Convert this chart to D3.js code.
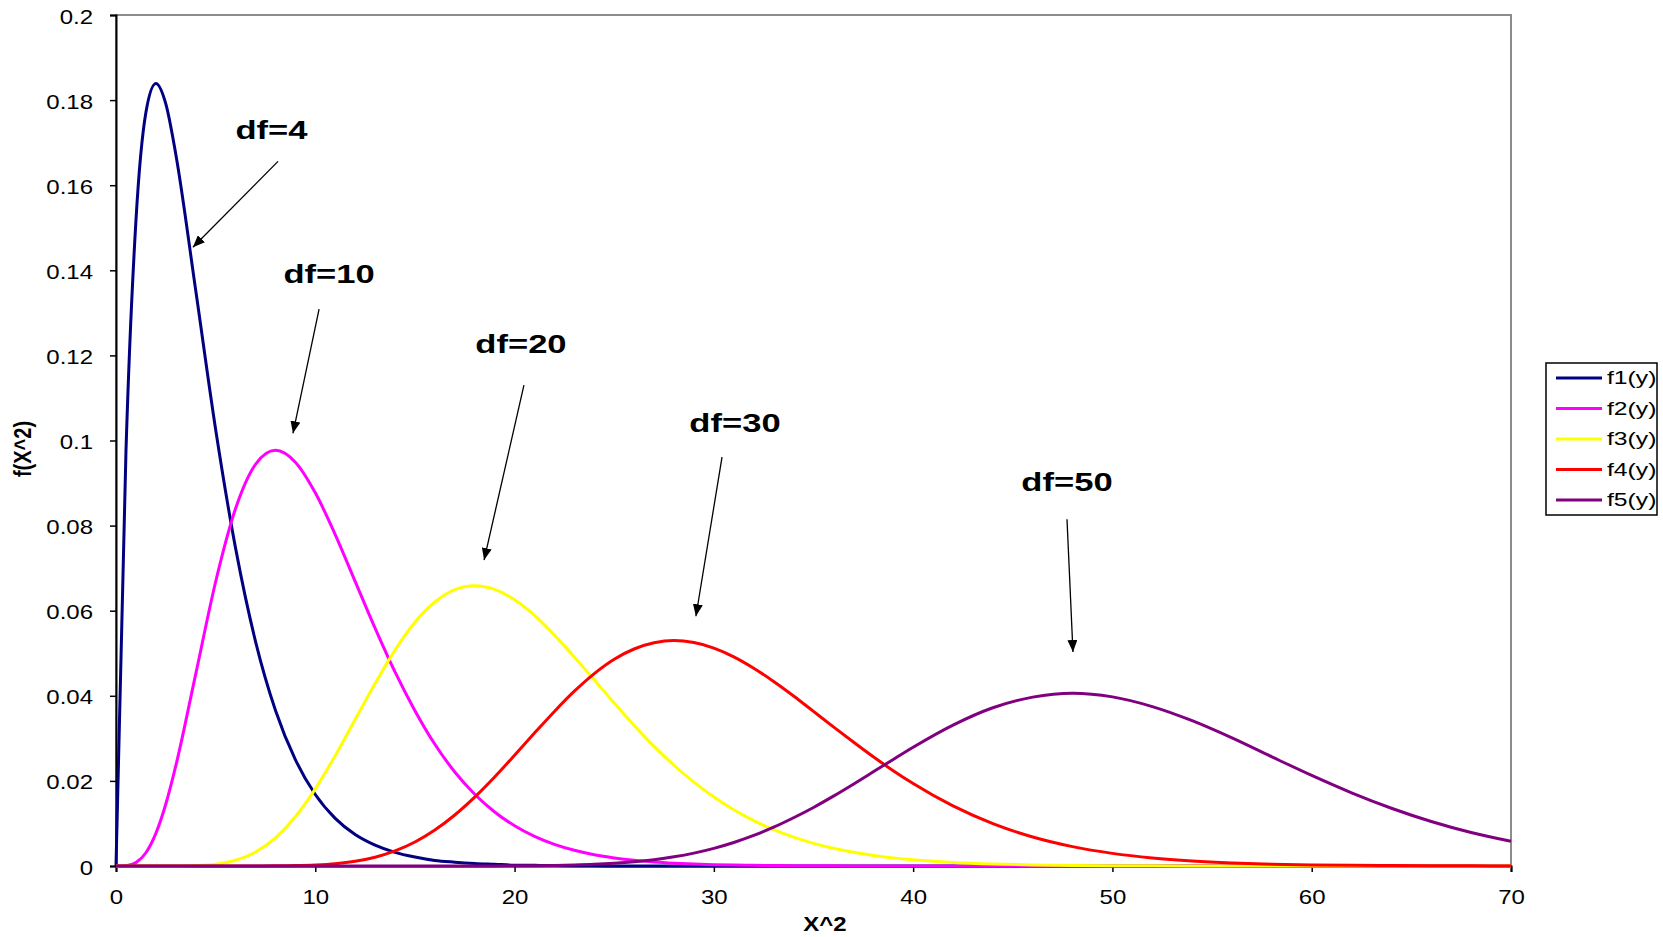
<!DOCTYPE html>
<html>
<head>
<meta charset="utf-8">
<script src="https://cdn.jsdelivr.net/npm/d3@7"></script>
<style>
body { margin: 0; background: #fff; }
text { font-family: "Liberation Sans", Arial, sans-serif; fill: #000; }
</style>
</head>
<body>
<svg id="plot"></svg>
<script>
// x values of the sampled points (x^2)
var XS = [0, 0.5, 1, 1.5, 2, 2.5, 3,
  4, 5, 6, 7, 8, 9, 10, 11, 12, 13, 14, 15, 16, 17, 18, 19, 20,
  21, 22, 23, 24, 25, 26, 27, 28, 29, 30, 31, 32, 33, 34, 35, 36, 37, 38, 39, 40,
  42, 44, 46, 48, 50, 52, 54, 56, 58, 60, 62, 64, 66, 68, 70];

var F1 = [0, 0.0974, 0.1516, 0.1771, 0.1839, 0.1791, 0.1673,
  0.1353, 0.1026, 0.0747, 0.0528, 0.0366, 0.0250, 0.0168, 0.0112, 0.0074, 0.0049, 0.0032, 0.0021, 0.0013, 0.0009, 0.0006, 0.0004, 0.0002,
  0.00015, 0.0001, 0.00006, 0.00004, 0.00002, 0.00001, 0.00001, 0, 0, 0, 0, 0, 0, 0, 0, 0, 0, 0, 0, 0,
  0, 0, 0, 0, 0, 0, 0, 0, 0, 0, 0, 0, 0, 0, 0];

var F2 = [0, 0.00006, 0.00079, 0.00311, 0.00766, 0.01457, 0.02353,
  0.0451, 0.0668, 0.0840, 0.0944, 0.0977, 0.0949, 0.0877, 0.0779, 0.0669, 0.0559, 0.0456, 0.0365, 0.0286, 0.0221, 0.01687, 0.0127, 0.00946,
  0.00697, 0.00509, 0.00369, 0.00265, 0.0019, 0.00134, 0.00095, 0.00067, 0.00046, 0.00032, 0.00022, 0.00015, 0.00011, 0.00007, 0.00005, 0.00003, 0.00002, 0.00002, 0.00001, 0.00001,
  0, 0, 0, 0, 0, 0, 0, 0, 0, 0, 0, 0, 0, 0, 0];

var F3 = [0, 0, 0, 0, 0, 0, 0.00001,
  0.0001, 0.00043, 0.00135, 0.00328, 0.00662, 0.01158, 0.01813, 0.02594, 0.03442, 0.04287, 0.05072, 0.05727, 0.06204, 0.06495, 0.06587, 0.06502, 0.06257,
  0.05889, 0.05426, 0.04909, 0.04372, 0.03829, 0.03304, 0.02812, 0.02368, 0.0197, 0.01621, 0.0132, 0.01065, 0.00853, 0.00677, 0.00533, 0.00416, 0.00323, 0.00249, 0.00191, 0.00145,
  0.00083, 0.00046, 0.00025, 0.00014, 0.00007, 0.00004, 0.00002, 0.00001, 0, 0, 0, 0, 0, 0, 0];

var F4 = [0, 0, 0, 0, 0, 0, 0,
  0, 0, 0, 0.00001, 0.00003, 0.00009, 0.00024, 0.00054, 0.00111, 0.00207, 0.00355, 0.00565, 0.00846, 0.01199, 0.01618, 0.02092, 0.02602,
  0.03124, 0.03633, 0.04108, 0.04523, 0.04861, 0.051, 0.05245, 0.05298, 0.05251, 0.05122, 0.04916, 0.04648, 0.04337, 0.03996, 0.03633, 0.03271, 0.02913, 0.02566, 0.0224, 0.01937,
  0.01411, 0.00995, 0.00681, 0.00455, 0.00297, 0.00189, 0.00118, 0.00072, 0.00043, 0.00026, 0.00015, 0.00009, 0.00005, 0.00003, 0.00002];

var F5 = [0, 0, 0, 0, 0, 0, 0,
  0, 0, 0, 0, 0, 0, 0, 0, 0, 0, 0, 0, 0, 0, 0.00001, 0.00002, 0.00004,
  0.00007, 0.00013, 0.00023, 0.00039, 0.00064, 0.00099, 0.00148, 0.00215, 0.00303, 0.00415, 0.00553, 0.00718, 0.00912, 0.01134, 0.01376, 0.01642, 0.01923, 0.02213, 0.02504, 0.0279,
  0.03311, 0.03719, 0.03969, 0.04061, 0.03975, 0.03747, 0.03415, 0.0301, 0.02565, 0.02128, 0.0172, 0.01358, 0.01046, 0.00787, 0.0058];

var SERIES = ["f1(y)", "f2(y)", "f3(y)", "f4(y)", "f5(y)"];
var COLORS = ["#000080", "#ff00ff", "#ffff00", "#ff0000", "#800080"];

var XTICKS = [0, 10, 20, 30, 40, 50, 60, 70];
var YTICKS = [0, 0.02, 0.04, 0.06, 0.08, 0.1, 0.12, 0.14, 0.16, 0.18, 0.2];

// annotations: label, label position, arrow start, arrow end (data units)
var NOTES = [
  ["df=4",  7.80, 0.1730,  8.13, 0.1656,  3.86, 0.1454],
  ["df=10", 10.69, 0.1391, 10.19, 0.1309,  8.88, 0.1017],
  ["df=20", 20.32, 0.1227, 20.47, 0.1130, 18.47, 0.0719],
  ["df=30", 31.06, 0.1041, 30.41, 0.0961, 29.10, 0.0587],
  ["df=50", 47.72, 0.0904, 47.72, 0.0815, 48.02, 0.0503]
];

var W = 1663, H = 937;
var margin = {top: 15, right: 152, bottom: 71, left: 116};
var width = W - margin.left - margin.right;
var height = H - margin.top - margin.bottom;
var SX = 1.2; // horizontal stretch of the text in the original picture

var svg = d3.select("#plot").attr("width", W).attr("height", H);
var g = svg.append("g")
    .attr("transform", "translate(" + margin.left + "," + margin.top + ")");

var x = d3.scaleLinear().domain([0, 70]).range([0, width]);
var y = d3.scaleLinear().domain([0, 0.2]).range([height, 0]);

// plot frame (grey top and right)
g.append("rect")
    .attr("width", width).attr("height", height)
    .attr("fill", "none").attr("stroke", "#8c8c8c").attr("stroke-width", 2);

var stretch = function(sel, tx, ty, k) {
    sel.attr("x", 0).attr("y", 0).attr("dy", null)
        .attr("transform", "translate(" + tx + "," + ty + ") scale(" + (k || SX) + ",1)");
};

var data = SERIES.map(function(name, i) {
    var vals = [F1, F2, F3, F4, F5][i];
    return XS.map(function(xv, j) { return [xv, vals[j]]; });
});

var line = d3.line()
    .x(function(d) { return x(d[0]); })
    .y(function(d) { return y(d[1]); })
    .curve(d3.curveMonotoneX);

var gx = g.append("g").attr("transform", "translate(0," + height + ")")
    .call(d3.axisBottom(x).tickValues(XTICKS).tickSize(6).tickFormat(d3.format("d")));
gx.select(".domain").attr("stroke", "#000").attr("stroke-width", 2);
gx.selectAll("line").attr("stroke", "#000").attr("stroke-width", 1.5);
gx.selectAll("text").attr("font-size", 20).attr("text-anchor", "middle").call(stretch, 0, 38);

var gy = g.append("g")
    .call(d3.axisLeft(y).tickValues(YTICKS).tickSize(6).tickFormat(d3.format("~g")));
gy.select(".domain").attr("stroke", "#000").attr("stroke-width", 2);
gy.selectAll("line").attr("stroke", "#000").attr("stroke-width", 1.5);
gy.selectAll("text").attr("font-size", 20).attr("text-anchor", "end").call(stretch, -23, 8);
svg.selectAll("g").attr("font-family", null);

g.append("g").selectAll("path")
    .data(data)
    .enter().append("path")
        .attr("fill", "none")
        .attr("stroke", function(d, i) { return COLORS[i]; })
        .attr("stroke-width", 3)
        .attr("stroke-linejoin", "round")
        .attr("d", line);

// axis titles
g.append("text")
    .attr("font-size", 20).attr("font-weight", "bold").attr("text-anchor", "middle")
    .text("X^2")
    .call(stretch, 709, 931 - margin.top);
svg.append("text")
    .attr("font-size", 20).attr("font-weight", "bold").attr("text-anchor", "middle")
    .attr("transform", "translate(31,449) rotate(-90) scale(1,1.15)")
    .text("f(X^2)");

// annotations
svg.append("defs").append("marker")
    .attr("id", "arrow").attr("viewBox", "0 0 12 10")
    .attr("refX", 12).attr("refY", 5)
    .attr("markerWidth", 12).attr("markerHeight", 10)
    .attr("markerUnits", "userSpaceOnUse")
    .attr("orient", "auto")
  .append("path").attr("d", "M0,0 L12,5 L0,10 Z").attr("fill", "#000");

var notes = g.append("g");
NOTES.forEach(function(n) {
    notes.append("line")
        .attr("x1", x(n[3])).attr("y1", y(n[4]))
        .attr("x2", x(n[5])).attr("y2", y(n[6]))
        .attr("stroke", "#000").attr("stroke-width", 1.3)
        .attr("marker-end", "url(#arrow)");
    notes.append("text")
        .attr("font-size", 26).attr("font-weight", "bold").attr("text-anchor", "middle")
        .attr("dominant-baseline", "central")
        .text(n[0])
        .call(stretch, x(n[1]), y(n[2]), 1.33);
});

// legend
var lg = svg.append("g").attr("transform", "translate(1546,363)");
lg.append("rect").attr("width", 111).attr("height", 152)
    .attr("fill", "#fff").attr("stroke", "#000").attr("stroke-width", 1.5);
SERIES.forEach(function(name, i) {
    var ly = 15 + i * 30.5;
    lg.append("line").attr("x1", 10).attr("x2", 56).attr("y1", ly).attr("y2", ly)
        .attr("stroke", COLORS[i]).attr("stroke-width", 3);
    lg.append("text").attr("font-size", 19).attr("dominant-baseline", "central")
        .text(name).call(stretch, 61, ly, 1.3);
});
</script>
</body>
</html>
